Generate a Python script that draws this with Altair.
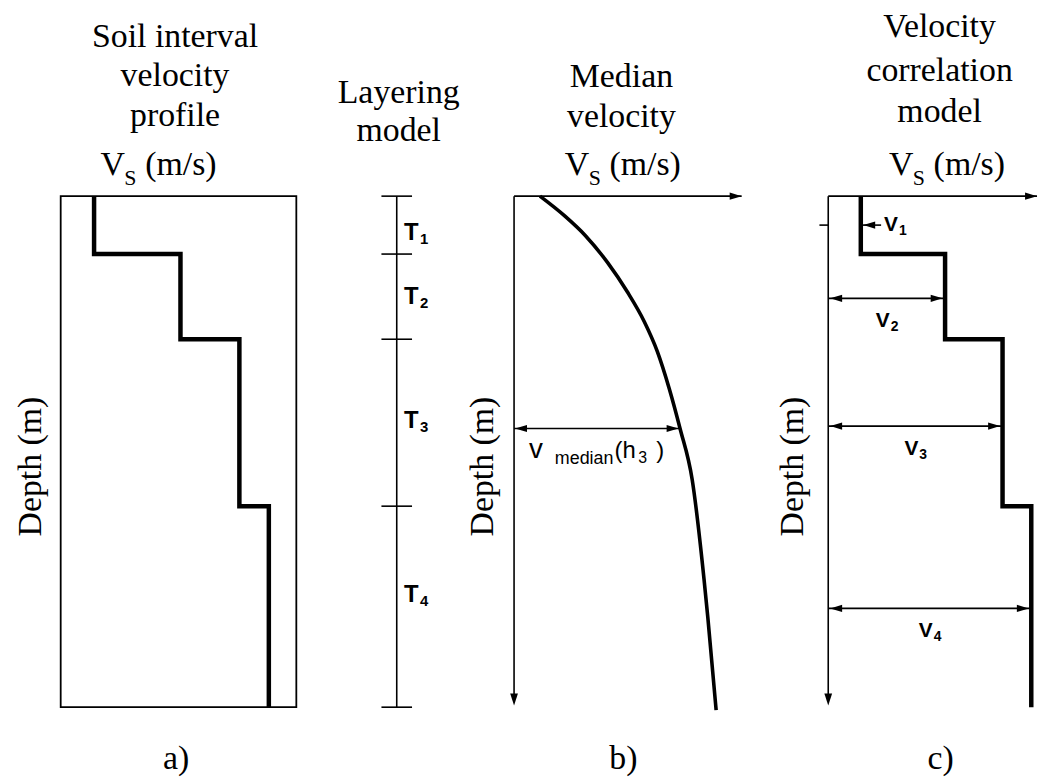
import altair as alt
import pandas as pd

# ---------------- data ----------------
layer_ids = ["1", "2", "3", "4"]
layer_top_m = [0.0, 3.4, 8.4, 18.2]
layer_bottom_m = [3.4, 8.4, 18.2, 30.0]
layer_vs = [85, 305, 455, 530]                 # interval shear-wave velocity (m/s)
layer_label_depth = [2.15, 5.9, 13.2, 23.4]    # where T_i labels sit
corr_arrow_depth = [1.7, 6.0, 13.5, 24.2]      # where V_i arrows sit
v1_arrow_tail = 138

median_depth_m = [0.0, 1.16, 2.32, 3.89, 5.63, 7.37, 9.11, 11.26, 13.64, 16.65, 22.46, 24.78, 30.17]
median_vs = [66, 129, 182, 238, 289, 332, 365, 395, 423, 454, 484, 494, 515]
h3_depth = 13.64
v_median_h3 = 423

DEPTH_MAX = 30.0
AXIS_END_B = 580

# ---------------- tables built from the arrays ----------------
step_df = pd.DataFrame({
    "seq": list(range(2 * len(layer_vs))),
    "depth": [d for t, b in zip(layer_top_m, layer_bottom_m) for d in (t, b)],
    "vs": [v for v in layer_vs for _ in (0, 1)],
})
layers_df = pd.DataFrame({
    "id": layer_ids, "vs": layer_vs,
    "label_depth": layer_label_depth, "arrow_depth": corr_arrow_depth,
})
bounds_df = pd.DataFrame({"depth": layer_top_m + [layer_bottom_m[-1]]})
median_df = pd.DataFrame({"depth": median_depth_m, "vs": median_vs})
h3_df = pd.DataFrame({"depth": [h3_depth], "vs": [v_median_h3]})
v1_df = layers_df.iloc[[0]].reset_index(drop=True)
v234_df = layers_df.iloc[1:].reset_index(drop=True)
ONE = alt.Data(values=[{"k": 0}])

# ---------------- layout / style ----------------
W_A, W_L, W_B, W_C = 237, 179, 296, 210
H = 514
SP = 20
SERIF = "Liberation Serif, Times New Roman, serif"
SANS = "Liberation Sans, Arial, sans-serif"
LW = 1.6

DEPTH = alt.Scale(domain=[0, DEPTH_MAX], reverse=True, nice=False, zero=False)
XA = alt.Scale(domain=[0, 600], nice=False)
XL = alt.Scale(domain=[-1, 1.21], nice=False)
XB = alt.Scale(domain=[0, 750], nice=False)
XC_MAX = 545
XC = alt.Scale(domain=[0, XC_MAX], nice=False)

ARROW_DOWN = "M0,0L-0.65,-2L0.65,-2Z"
ARROW_RIGHT = "M0,0L-2,-0.6L-2,0.6Z"
ARROW_LEFT = "M0,0L2,-0.6L2,0.6Z"


def DX(v, s):
    return alt.X(datum=v, type="quantitative", scale=s, axis=None)


def DY(v):
    return alt.Y(datum=v, type="quantitative", scale=DEPTH, axis=None)


def FX(f, s):
    return alt.X(f, type="quantitative", scale=s, axis=None)


def FY(f):
    return alt.Y(f, type="quantitative", scale=DEPTH, axis=None)


def T(text, x, y, size=34, font=SERIF, align="center", baseline="alphabetic", angle=None, weight="normal"):
    kw = dict(text=text, font=font, fontSize=size, align=align, baseline=baseline,
              fontWeight=weight, color="black")
    if angle is not None:
        kw["angle"] = angle
    return alt.Chart(ONE).mark_text(**kw).encode(x=alt.value(x), y=alt.value(y))


def vs_title(xl, yb):
    return [T("V", xl, yb, align="left"),
            T("S", xl + 24, yb + 10, size=22, align="left"),
            T("(m/s)", xl + 45, yb, align="left")]


def depth_title(x):
    return T("Depth (m)", x, 272, angle=270, baseline="middle")


def head(data, x, y, shape, xoff=0, yoff=0, size=144):
    return alt.Chart(data).mark_point(shape=shape, filled=True, size=size, color="black",
                                      opacity=1, strokeWidth=0, xOffset=xoff, yOffset=yoff
                                      ).encode(x=x, y=y)


def axes(xs, x_end, arrow_right=True):
    out = [
        alt.Chart(ONE).mark_rule(color="black", strokeWidth=LW).encode(
            x=DX(0, xs), y=DY(0), y2=alt.Y2(datum=DEPTH_MAX - 0.5)),
        head(ONE, DX(0, xs), DY(DEPTH_MAX - 0.1), ARROW_DOWN),
        alt.Chart(ONE).mark_rule(color="black", strokeWidth=LW).encode(
            x=DX(0, xs), x2=alt.X2(datum=x_end), y=DY(0)),
    ]
    if arrow_right:
        out.append(head(ONE, DX(x_end, xs), DY(0), ARROW_RIGHT))
    return out


def step_line(xs):
    return alt.Chart(step_df).mark_line(color="black", strokeWidth=4.5, strokeJoin="miter",
                                        strokeCap="butt").encode(
        x=FX("vs", xs), y=FY("depth"), order=alt.Order("seq", type="quantitative"))


# ---------------- panel a ----------------
panel_a = alt.layer(
    step_line(XA),
    T("Soil interval", 115, -150), T("velocity", 115, -111), T("profile", 115, -71),
    *vs_title(40, -21),
    depth_title(-30),
    T("a)", 116, 576),
).properties(width=W_A, height=H,
             view=alt.ViewBackground(stroke="black", strokeWidth=1.8))

# ---------------- layering model ----------------
panel_l = alt.layer(
    alt.Chart(ONE).mark_rule(color="black", strokeWidth=LW).encode(
        x=DX(0, XL), y=DY(0), y2=alt.Y2(datum=DEPTH_MAX)),
    alt.Chart(bounds_df).mark_rule(color="black", strokeWidth=LW).encode(
        x=DX(-0.19, XL), x2=alt.X2(datum=0.19), y=FY("depth")),
    alt.Chart(layers_df).mark_text(text="T", font=SANS, fontSize=24, fontWeight="bold",
                                   align="left", baseline="middle", color="black").encode(
        x=DX(0.09, XL), y=FY("label_depth")),
    alt.Chart(layers_df).mark_text(font=SANS, fontSize=15, fontWeight="bold", align="left",
                                   baseline="middle", dx=16, dy=6, color="black").encode(
        x=DX(0.09, XL), y=FY("label_depth"), text=alt.Text("id", type="nominal")),
    T("Layering", 83, -94), T("model", 83, -55),
).properties(width=W_L, height=H)

# ---------------- panel b ----------------
panel_b = alt.layer(
    *axes(XB, AXIS_END_B),
    alt.Chart(median_df).mark_line(color="black", strokeWidth=3.6, interpolate="monotone").encode(
        x=FX("vs", XB), y=FY("depth")),
    alt.Chart(h3_df).mark_rule(color="black", strokeWidth=LW).encode(
        x=FX("vs", XB), x2=alt.X2(datum=0), y=FY("depth")),
    head(h3_df, DX(0, XB), FY("depth"), ARROW_LEFT, xoff=1),
    head(h3_df, FX("vs", XB), FY("depth"), ARROW_RIGHT, xoff=-1.5),
    T("v", 15, 263, size=28, font=SANS, align="left"),
    T("median", 41, 269, size=18, font=SANS, align="left"),
    T("(h", 101, 263, size=24, font=SANS, align="left"),
    T("3", 125, 268, size=16, font=SANS, align="left"),
    T(")", 143, 263, size=24, font=SANS, align="left"),
    T("Median", 108, -110), T("velocity", 108, -70),
    *vs_title(51, -21),
    depth_title(-31),
    T("b)", 110, 576),
).properties(width=W_B, height=H)

# ---------------- panel c ----------------
panel_c = alt.layer(
    *axes(XC, XC_MAX),
    step_line(XC),
    alt.Chart(v1_df).mark_rule(color="black", strokeWidth=LW).encode(
        x=DX(-23, XC), x2=alt.X2(datum=0), y=FY("arrow_depth")),
    alt.Chart(v1_df).mark_rule(color="black", strokeWidth=LW).encode(
        x=FX("vs", XC), x2=alt.X2(datum=v1_arrow_tail), y=FY("arrow_depth")),
    head(v1_df, FX("vs", XC), FY("arrow_depth"), ARROW_LEFT, xoff=2.5),
    alt.Chart(v1_df).mark_text(text="V", font=SANS, fontSize=21, fontWeight="bold", align="left",
                               baseline="middle", dx=3, color="black").encode(
        x=DX(v1_arrow_tail, XC), y=FY("arrow_depth")),
    alt.Chart(v1_df).mark_text(font=SANS, fontSize=14, fontWeight="bold", align="left",
                               baseline="middle", dx=18, dy=6, color="black").encode(
        x=DX(v1_arrow_tail, XC), y=FY("arrow_depth"), text=alt.Text("id", type="nominal")),
    alt.Chart(v234_df).mark_rule(color="black", strokeWidth=LW).encode(
        x=FX("vs", XC), x2=alt.X2(datum=0), y=FY("arrow_depth")),
    head(v234_df, DX(0, XC), FY("arrow_depth"), ARROW_LEFT, xoff=2),
    head(v234_df, FX("vs", XC), FY("arrow_depth"), ARROW_RIGHT, xoff=-2.5),
    alt.Chart(v234_df).transform_calculate(mid="datum.vs / 2").mark_text(
        text="V", font=SANS, fontSize=21, fontWeight="bold", align="center", baseline="middle",
        dx=-4, dy=23, color="black").encode(x=FX("mid", XC), y=FY("arrow_depth")),
    alt.Chart(v234_df).transform_calculate(mid="datum.vs / 2").mark_text(
        font=SANS, fontSize=14, fontWeight="bold", align="left", baseline="middle",
        dx=4, dy=29, color="black").encode(
        x=FX("mid", XC), y=FY("arrow_depth"), text=alt.Text("id", type="nominal")),
    T("Velocity", 112, -160), T("correlation", 112, -116), T("model", 112, -75),
    *vs_title(61, -21),
    depth_title(-35),
    T("c)", 113, 576),
).properties(width=W_C, height=H)

chart = alt.hconcat(panel_a, panel_l, panel_b, panel_c, spacing=SP, bounds="flush").properties(
    padding={"left": 5, "top": 0, "right": 0, "bottom": 0},
    background="white",
).configure_view(stroke=None)

chart.save("out.html", embed_options={"renderer": "svg", "actions": False})
